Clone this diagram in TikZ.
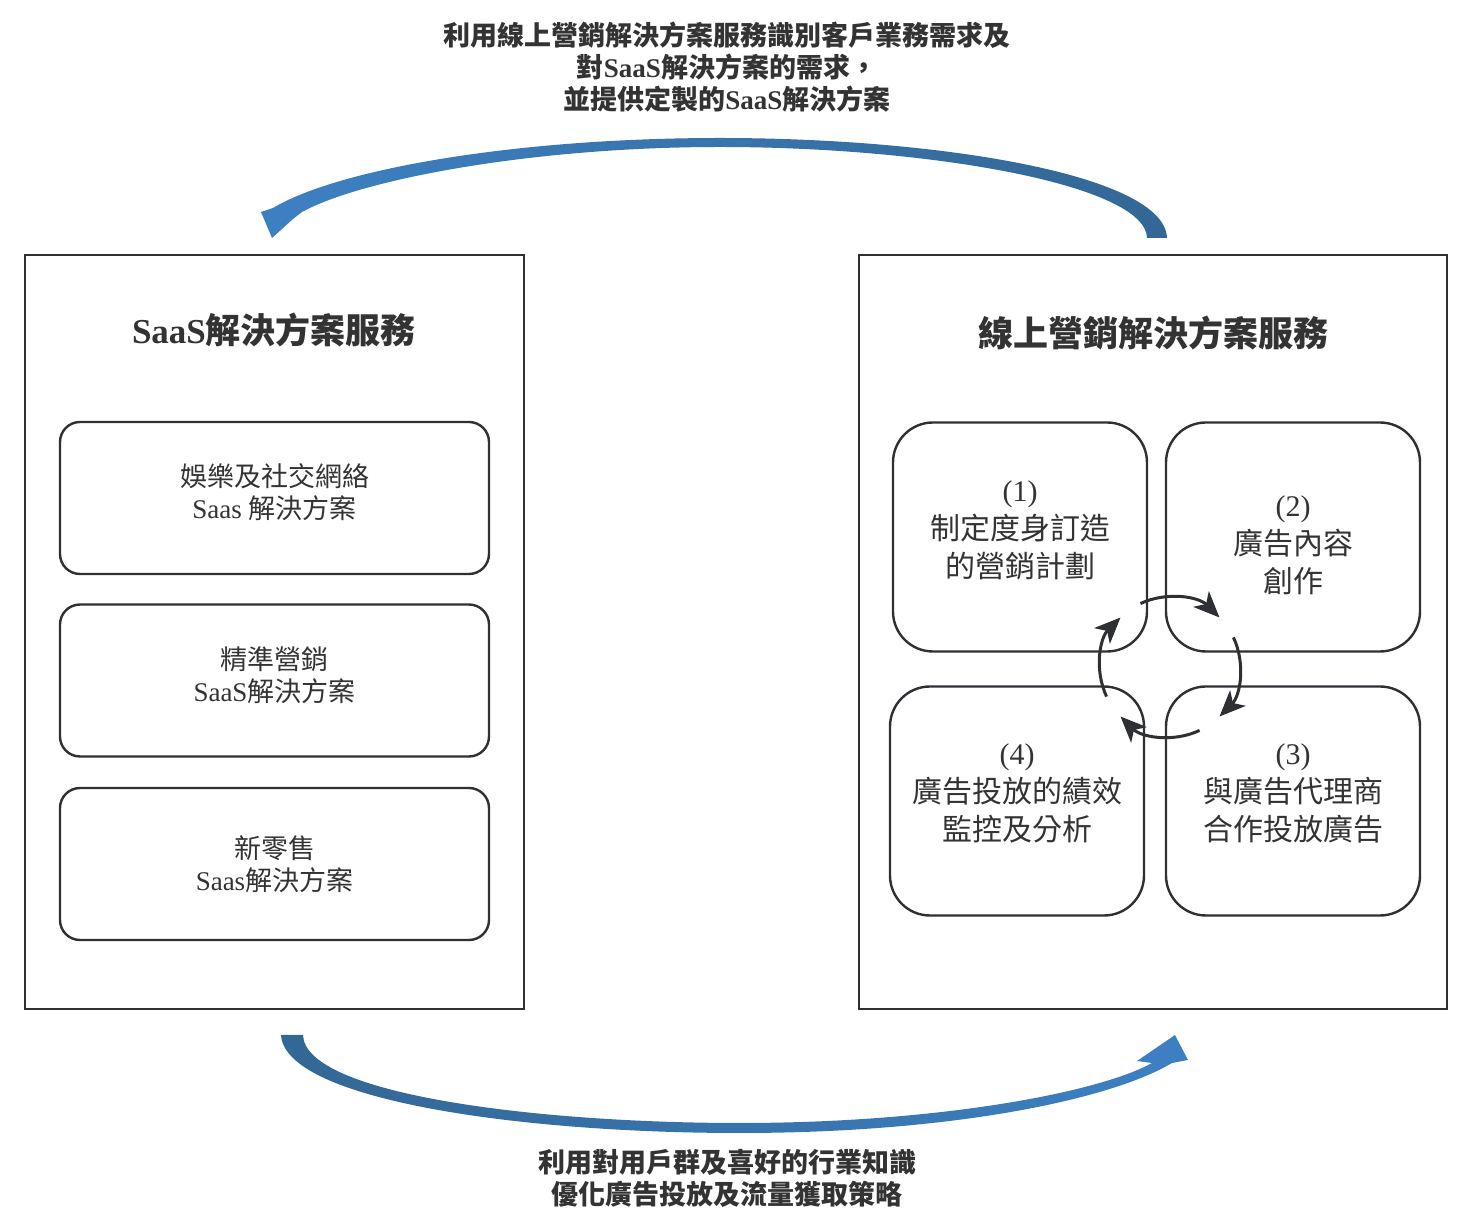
\documentclass[tikz,border=0pt]{standalone}
\usepackage{fontspec}
\setmainfont{Liberation Serif}
\newfontfamily\cjk{Noto Sans CJK TC}
\usepackage{tikz}
\usetikzlibrary{arrows.meta}
\definecolor{textgray}{HTML}{333333}
\definecolor{linegray}{HTML}{2E3034}
\definecolor{arrowlight}{HTML}{3D80C2}
\definecolor{arrowdark}{HTML}{336795}
\newcommand{\zh}[1]{{\cjk #1}}

\begin{document}
\begin{tikzpicture}[x=0.5pt, y=-0.5pt,
		panel/.style={draw=linegray, line width=1pt, minimum width=249.5pt, minimum height=377pt, inner sep=0pt},
		saasbox/.style={draw=linegray, line width=1.2pt, rounded corners=10pt, minimum width=214.5pt, minimum height=76pt},
		saastext/.style={align=center, text=textgray, font=\fontsize{13.5}{16}\selectfont},
		stepbox/.style={draw=linegray, line width=1.2pt, rounded corners=20pt, minimum width=127pt, minimum height=114.5pt},
		steptext/.style={align=center, text=textgray, font=\fontsize{15}{19}\selectfont},
		paneltitle/.style={text=textgray, font=\fontsize{17.5}{20}\selectfont\bfseries},
		flowtext/.style={align=center, text=textgray, font=\fontsize{13.5}{16}\selectfont\bfseries},
		cycarrow/.style={draw=linegray, line width=1.5pt, -{Stealth[length=13pt, width=11pt, inset=3.5pt]}}]
			\useasboundingbox (0,0) rectangle (1464,1218);
			% two panels
			\node[panel] (saas) at (274.5,632) {};
			\node[panel, minimum width=294pt] (online) at (1153,632) {};
			\node[paneltitle] (saastitle) at (274,330) {SaaS\zh{解決方案服務}};
			\node[paneltitle] (onlinetitle) at (1153,333) {\zh{線上營銷解決方案服務}};
			% saas solutions
			\node[saasbox] (ent) at (274.5,498) {};
			\node[saasbox] (precise) at (274.5,680.5) {};
			\node[saasbox] (retail) at (274.5,864) {};
			\node[saastext] (enttext) at ([yshift=3pt]ent.center) {\zh{娛樂及社交網絡}\\Saas \zh{解決方案}};
			\node[saastext] (precisetext) at ([yshift=2.5pt]precise.center) {\zh{精準營銷}\\SaaS\zh{解決方案}};
			\node[saastext] (retailtext) at (retail.center) {\zh{新零售}\\Saas\zh{解決方案}};
			% marketing steps
			\node[stepbox] (plan) at (1020,537) {};
			\node[stepbox] (content) at (1293,537) {};
			\node[stepbox] (agency) at (1293,801) {};
			\node[stepbox] (monitor) at (1017,801) {};
			\node[steptext] (plantext) at ([yshift=3.5pt]plan.center) {(1)\\\zh{制定度身訂造}\\\zh{的營銷計劃}};
			\node[steptext] (contenttext) at ([yshift=-4pt]content.center) {(2)\\\zh{廣告內容}\\\zh{創作}};
			\node[steptext] (agencytext) at ([yshift=4pt]agency.center) {(3)\\\zh{與廣告代理商}\\\zh{合作投放廣告}};
			\node[steptext] (monitortext) at ([yshift=4pt]monitor.center) {(4)\\\zh{廣告投放的績效}\\\zh{監控及分析}};
			\coordinate (cyc) at (1170,667);
			\foreach \s/\e in {115/45, 25/-45, -65/-135, -155/-225}
				\draw[cycarrow] ([shift={(\s:35pt)}]cyc) arc[start angle=\s, end angle=\e, radius=35pt];
			% big arrows
			\shade[left color=arrowlight, right color=arrowdark]
				(1167,238) .. controls (1165,175) and (940,138) .. (720,138)
				.. controls (520,138) and (340,168) .. (273,208)
				-- (261,212) -- (272,238) -- (293,219) -- (302,212)
				.. controls (360,180) and (530,147) .. (720,147)
				.. controls (930,147) and (1146,185) .. (1147,238) -- cycle;
			\shade[left color=arrowdark, right color=arrowlight]
				(281,1035) .. controls (285,1100) and (520,1133) .. (740,1133)
				.. controls (950,1133) and (1110,1100) .. (1172,1063)
				-- (1188,1060) -- (1175,1035) -- (1137,1061) -- (1152,1063)
				.. controls (1100,1092) and (940,1123) .. (740,1123)
				.. controls (540,1123) and (305,1095) .. (303,1035) -- cycle;
			\node[flowtext] (toptext) at (727,67) {\zh{利用線上營銷解決方案服務識別客戶業務需求及}\\\zh{對}SaaS\zh{解決方案的需求，}\\\zh{並提供定製的}SaaS\zh{解決方案}};
			\node[flowtext] (bottomtext) at (727,1178) {\zh{利用對用戶群及喜好的行業知識}\\\zh{優化廣告投放及流量獲取策略}};
		\end{tikzpicture}
\end{document}
